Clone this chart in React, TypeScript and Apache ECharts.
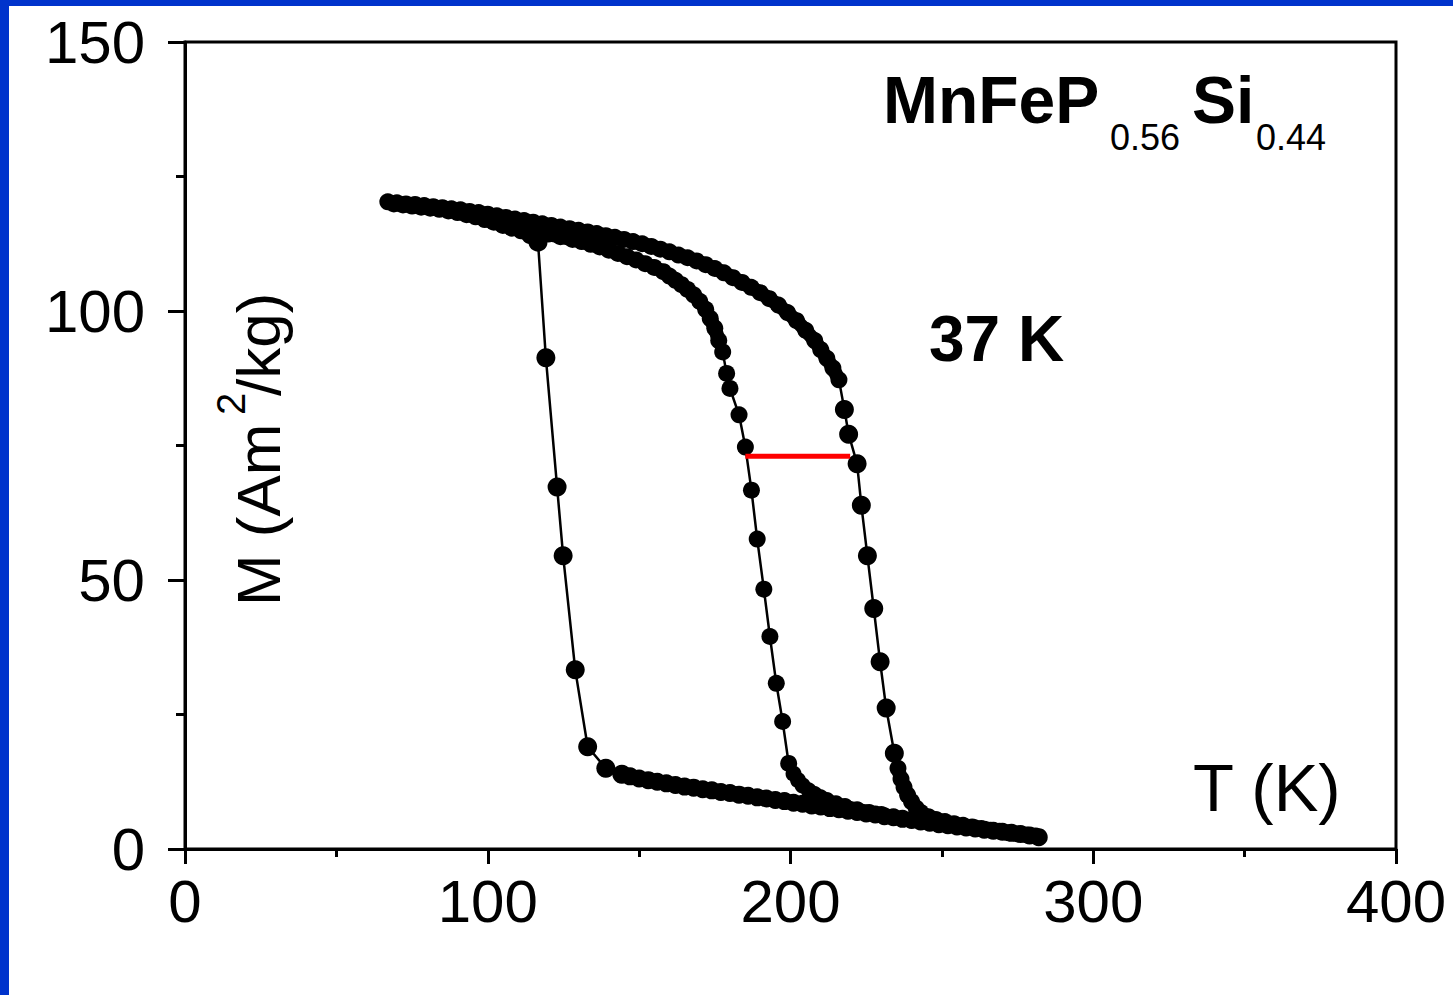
import React, { useEffect, useRef } from 'react';
import * as echarts from 'echarts';

const FONT = '"Liberation Sans", Arial, Helvetica, sans-serif';

// Axis ranges / ticks
const X_MIN = 0, X_MAX = 400, X_STEP = 100;
const Y_MIN = 0, Y_MAX = 150, Y_STEP = 50;

// Branch A (transition near 225 K): dense upper part
const A_top_T = [67, 70, 73, 76, 79, 82, 85, 88, 91, 94, 97, 100, 103, 106, 109, 112, 115, 118, 121, 124, 127, 130, 133, 136, 139, 142, 145, 148, 151, 154, 157, 160, 163, 166, 169, 172, 175, 178, 181, 184, 187, 190, 193, 196, 199, 202, 205, 208, 210, 212, 214, 216];
const A_top_M = [120.3, 120.1, 119.9, 119.8, 119.6, 119.4, 119.2, 119.0, 118.8, 118.5, 118.3, 118.0, 117.7, 117.4, 117.1, 116.8, 116.5, 116.2, 115.9, 115.6, 115.3, 115.0, 114.7, 114.4, 114.0, 113.7, 113.3, 112.9, 112.5, 112.0, 111.5, 111.0, 110.4, 109.9, 109.3, 108.6, 107.9, 107.1, 106.2, 105.3, 104.4, 103.4, 102.3, 101.1, 99.7, 98.2, 96.4, 94.5, 92.8, 91.2, 89.4, 87.2];
// Branch A: sparse transition points
const A_mid_T = [217.8, 219.2, 222.0, 223.4, 225.4, 227.5, 229.6, 231.6, 234.3];
const A_mid_M = [81.7, 77.1, 71.6, 63.9, 54.5, 44.7, 34.8, 26.2, 17.8];
// Branch A: dense tail
const A_tail_T = [235.5, 236.5, 237.5, 238.7, 240.0, 241.5, 243.0, 245.5, 248, 251, 254, 257, 260, 263, 266, 269, 272, 275, 278, 281];
const A_tail_M = [15.0, 13.0, 11.5, 10.0, 8.8, 7.6, 6.8, 6.0, 5.5, 5.1, 4.7, 4.4, 4.1, 3.8, 3.5, 3.3, 3.0, 2.8, 2.6, 2.4];

// Branch B (transition near 190 K)
const B_top_T = [100, 104, 108, 112, 116, 120, 124, 128, 131, 134, 137, 140, 143, 146, 149, 152, 155, 158, 160, 162, 164, 166, 168, 170, 172, 173.5, 175, 176.3];
const B_top_M = [117.4, 116.8, 116.2, 115.5, 114.9, 114.3, 113.8, 113.3, 112.9, 112.4, 111.9, 111.3, 110.7, 110.1, 109.5, 108.8, 108.1, 107.3, 106.5, 105.7, 104.9, 104.0, 103.0, 101.8, 100.3, 98.6, 96.8, 94.5];
const B_mid_T = [177.6, 178.9, 180.0, 183.0, 185.1, 187.1, 189.0, 191.2, 193.2, 195.3, 197.4, 199.4];
const B_mid_M = [92.4, 88.4, 85.6, 80.7, 74.7, 66.7, 57.6, 48.3, 39.5, 30.8, 23.7, 15.9];
const B_tail_T = [201.0, 202.5, 204.0, 206.0, 208.0, 210.0, 212.0, 215.0, 218.0, 222.0, 226.0, 230.0];
const B_tail_M = [14.0, 12.8, 11.8, 10.9, 10.2, 9.6, 9.1, 8.5, 8.0, 7.4, 6.9, 6.5];

// Branch C (cooling, transition near 125 K)
const C_bot_T = [282, 279, 276, 273, 270, 267, 264, 261, 258, 255, 252, 249, 246, 243, 240, 237, 234, 231, 228, 225, 222, 219, 216, 213, 210, 207, 204, 201, 198, 195, 192, 189, 186, 183, 180, 177, 174, 171, 168, 165, 162, 159, 156, 153, 150, 147];
const C_bot_M = [2.2, 2.5, 2.8, 3.0, 3.2, 3.4, 3.6, 3.8, 4.0, 4.2, 4.4, 4.6, 4.9, 5.1, 5.4, 5.6, 5.9, 6.1, 6.4, 6.6, 6.9, 7.1, 7.4, 7.6, 7.9, 8.1, 8.4, 8.6, 8.9, 9.1, 9.4, 9.6, 9.9, 10.1, 10.4, 10.6, 10.9, 11.1, 11.4, 11.6, 11.9, 12.2, 12.5, 12.8, 13.1, 13.5];
const C_mid_T = [144.3, 139.0, 133.0, 128.9, 124.9, 122.9, 119.2, 116.6];
const C_mid_M = [13.9, 15.0, 19.0, 33.3, 54.5, 67.3, 91.3, 112.8];
const C_top_T = [114, 111, 108, 105, 102, 99, 96, 93, 90, 87, 84, 81, 78, 75, 72, 69];
const C_top_M = [114.0, 114.9, 115.4, 115.9, 116.5, 117.0, 117.5, 117.9, 118.3, 118.6, 118.9, 119.1, 119.3, 119.5, 119.7, 119.9];

// Hysteresis width marker (37 K)
const RED_T = [185.1, 219.7];
const RED_M = [73.0, 73.0];

function xy(T: number[], M: number[]) {
  return T.map((t, i) => [t, M[i]]);
}

function connector(data: number[][]) {
  return {
    type: 'line', data, symbol: 'none',
    lineStyle: { color: '#000', width: 2.5 },
    emphasis: { disabled: true }, z: 2,
  };
}

function band(data: number[][], size: number) {
  return {
    type: 'line', data, symbol: 'circle', symbolSize: size, showAllSymbol: true,
    itemStyle: { color: '#000' },
    lineStyle: { color: '#000', width: size - 3, cap: 'round', join: 'round' },
    emphasis: { disabled: true }, z: 3,
  };
}

function dots(data: number[][], size: number) {
  return {
    type: 'scatter', data, symbol: 'circle', symbolSize: size,
    itemStyle: { color: '#000', opacity: 1 },
    emphasis: { disabled: true }, z: 4,
  };
}

export default function App() {
  const ref = useRef<HTMLDivElement>(null);
  useEffect(() => {
    const chart = echarts.init(ref.current!, null, { renderer: 'svg' });
    const axisLine = { show: true, lineStyle: { color: '#000', width: 3 } };

    const aTop = xy(A_top_T, A_top_M), aMid = xy(A_mid_T, A_mid_M), aTail = xy(A_tail_T, A_tail_M);
    const bTop = xy(B_top_T, B_top_M), bMid = xy(B_mid_T, B_mid_M), bTail = xy(B_tail_T, B_tail_M);
    const cBot = xy(C_bot_T, C_bot_M), cMid = xy(C_mid_T, C_mid_M), cTop = xy(C_top_T, C_top_M);

    chart.setOption({
      animation: false,
      backgroundColor: '#fff',
      grid: {
        left: 185, right: 57, top: 42, bottom: 146,
        show: true, borderColor: '#000', borderWidth: 3, backgroundColor: 'transparent',
      },
      xAxis: {
        type: 'value', min: X_MIN, max: X_MAX, interval: X_STEP,
        axisLine,
        axisTick: { show: true, inside: false, length: 15, lineStyle: { color: '#000', width: 3 } },
        minorTick: { show: true, splitNumber: 2, length: 8, lineStyle: { color: '#000', width: 3 } },
        splitLine: { show: false },
        axisLabel: { fontSize: 60, color: '#000', fontFamily: FONT, margin: 22 },
      },
      yAxis: {
        type: 'value', min: Y_MIN, max: Y_MAX, interval: Y_STEP,
        axisLine,
        axisTick: { show: true, inside: false, length: 17, lineStyle: { color: '#000', width: 3 } },
        minorTick: { show: true, splitNumber: 2, length: 9, lineStyle: { color: '#000', width: 3 } },
        splitLine: { show: false },
        axisLabel: { fontSize: 60, color: '#000', fontFamily: FONT, margin: 40, padding: [0, 0, 10, 0] },
      },
      series: [
        connector([...aTop, ...aMid, ...aTail]),
        connector([...bTop, ...bMid, ...bTail]),
        connector([...cBot, ...cMid, ...cTop]),
        band(aTop, 17), band(aTail, 17),
        band(bTop, 17), band(bTail, 16),
        band(cBot, 18), band(cTop, 17),
        dots(aMid, 19), dots(bMid, 17), dots(cMid, 19),
        {
          type: 'line',
          data: xy(RED_T, RED_M),
          symbol: 'none',
          lineStyle: { color: '#ff0000', width: 5 },
          z: 6,
        },
      ],
      graphic: [
        { type: 'rect', shape: { x: 0, y: 0, width: 9, height: 995 }, style: { fill: '#0033cc' }, z: 10 },
        { type: 'rect', shape: { x: 0, y: 0, width: 1453, height: 6 }, style: { fill: '#0033cc' }, z: 10 },
        { type: 'text', x: 883, y: 100, style: { text: 'MnFeP', font: `bold 66px ${FONT}`, fill: '#000', textAlign: 'left', textVerticalAlign: 'middle', verticalAlign: 'middle' }, z: 10 },
        { type: 'text', x: 1110, y: 137, style: { text: '0.56', font: `36px ${FONT}`, fill: '#000', textAlign: 'left', textVerticalAlign: 'middle', verticalAlign: 'middle' }, z: 10 },
        { type: 'text', x: 1192, y: 100, style: { text: 'Si', font: `bold 66px ${FONT}`, fill: '#000', textAlign: 'left', textVerticalAlign: 'middle', verticalAlign: 'middle' }, z: 10 },
        { type: 'text', x: 1256, y: 137, style: { text: '0.44', font: `36px ${FONT}`, fill: '#000', textAlign: 'left', textVerticalAlign: 'middle', verticalAlign: 'middle' }, z: 10 },
        { type: 'text', x: 929, y: 339, style: { text: '37 K', font: `bold 64px ${FONT}`, fill: '#000', textAlign: 'left', textVerticalAlign: 'middle', verticalAlign: 'middle' }, z: 10 },
        { type: 'text', x: 1193, y: 787, style: { text: 'T (K)', font: `67px ${FONT}`, fill: '#000', textAlign: 'left', textVerticalAlign: 'middle', verticalAlign: 'middle' }, z: 10 },
        {
          type: 'group', x: 258, y: 606, rotation: Math.PI / 2, z: 10,
          children: [
            { type: 'text', x: 0, y: 0, style: { text: 'M (Am', font: `62px ${FONT}`, fill: '#000', textAlign: 'left', textVerticalAlign: 'middle', verticalAlign: 'middle' } },
            { type: 'text', x: 191, y: -27, style: { text: '2', font: `40px ${FONT}`, fill: '#000', textAlign: 'left', textVerticalAlign: 'middle', verticalAlign: 'middle' } },
            { type: 'text', x: 210, y: 0, style: { text: '/kg)', font: `62px ${FONT}`, fill: '#000', textAlign: 'left', textVerticalAlign: 'middle', verticalAlign: 'middle' } },
          ],
        },
      ],
    });
    return () => chart.dispose();
  }, []);
  return (
    <div
      ref={ref}
      style={{ position: 'fixed', left: 0, top: 0, width: 1453, height: 995, background: '#fff' }}
    />
  );
}
